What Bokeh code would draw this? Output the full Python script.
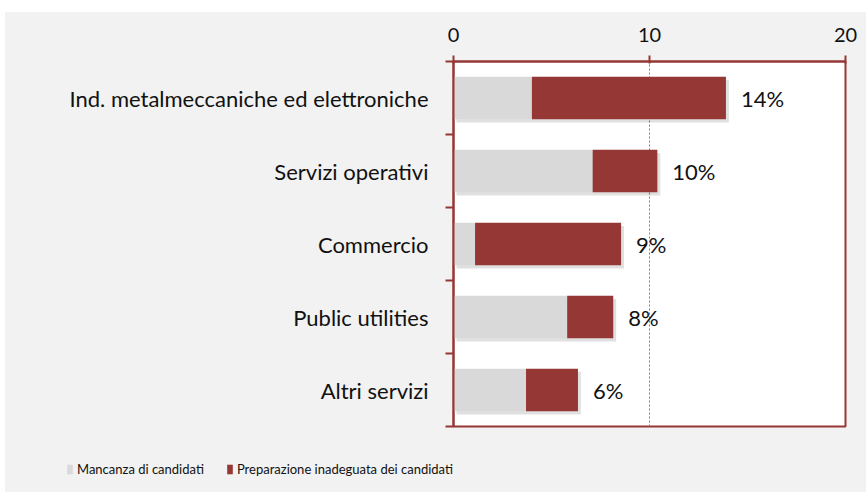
from bokeh.plotting import figure
from bokeh.models import ColumnDataSource, FixedTicker, Legend, LegendItem, Range1d
from bokeh.layouts import column
from bokeh.core.properties import value
from bokeh.embed import file_html
from bokeh.resources import INLINE

categories = ["Ind. metalmeccaniche ed elettroniche", "Servizi operativi", "Commercio",
              "Public utilities", "Altri servizi"]
mancanza = [4.0, 7.1, 1.1, 5.8, 3.7]
preparazione = [9.9, 3.3, 7.45, 2.35, 2.65]
pct_labels = ["14%", "10%", "9%", "8%", "6%"]
series_names = ["Mancanza di candidati", "Preparazione inadeguata dei candidati"]
x_ticks = [0, 10, 20]

GRAY = "#d9d9d9"
RED = "#953735"
BG = "#f2f2f2"
FONT = "Lato"
TXT = "#111111"

n = len(categories)
ys = [n - 1 - i + 0.5 for i in range(n)]
totals = [a + b for a, b in zip(mancanza, preparazione)]
src = ColumnDataSource(dict(y=ys, cat=categories, m=mancanza, tot=totals,
                            zero=[0] * n, lab=pct_labels,
                            sh_l=[0.15] * n, sh_r=[t + 0.15 for t in totals],
                            sh_y=[y - 0.045 for y in ys]))

p = figure(width=861, height=434,
           x_range=Range1d(0, 20), y_range=Range1d(0, n),
           output_backend="svg", toolbar_location=None,
           x_axis_location="above",
           min_border_left=448, min_border_right=21, min_border_top=49, min_border_bottom=20)
p.background_fill_color = "white"
p.border_fill_color = BG
p.outline_line_color = RED
p.outline_line_width = 2

# shadow
p.hbar(y="sh_y", left="sh_l", right="sh_r", height=0.58, source=src,
       fill_color="black", fill_alpha=0.12, line_color=None)
p.hbar(y="y", left="zero", right="m", height=0.58, source=src,
       fill_color=GRAY, line_color=None)
p.hbar(y="y", left="m", right="tot", height=0.58, source=src,
       fill_color=RED, line_color=None)

p.text(x="tot", y="y", text="lab", source=src, x_offset=15,
       text_baseline="middle", text_align="left",
       text_font=value(FONT), text_font_size="22px", text_color=TXT)

xa = p.xaxis[0]
xa.ticker = FixedTicker(ticks=x_ticks)
xa.axis_line_color = RED
xa.axis_line_width = 2
xa.major_tick_line_color = RED
xa.major_tick_line_width = 2
xa.major_tick_out = 6
xa.major_tick_in = 2
xa.minor_tick_line_color = None
xa.major_label_text_font = FONT
xa.major_label_text_font_size = "20px"
xa.major_label_text_color = TXT
xa.major_label_standoff = 14

ya = p.yaxis[0]
ya.ticker = FixedTicker(ticks=ys, minor_ticks=list(range(n + 1)))
ya.major_label_overrides = {y: c for y, c in zip(ys, categories)}
ya.axis_line_color = RED
ya.axis_line_width = 2
ya.major_tick_line_color = None
ya.major_tick_out = 0
ya.major_tick_in = 0
ya.minor_tick_line_color = RED
ya.minor_tick_line_width = 2
ya.minor_tick_out = 8
ya.minor_tick_in = 0
ya.major_label_text_font = FONT
ya.major_label_text_font_size = "22px"
ya.major_label_text_color = TXT
ya.major_label_standoff = 17

p.xgrid.ticker = FixedTicker(ticks=[10])
p.xgrid.grid_line_color = "#808080"
p.xgrid.grid_line_dash = "2 2"
p.xgrid.grid_line_width = 1
p.ygrid.grid_line_color = None

# legend strip
lf = figure(width=861, height=46,
            x_range=Range1d(0, 1), y_range=Range1d(0, 1),
            output_backend="svg", toolbar_location=None,
            min_border=0, min_border_left=0, min_border_right=0,
            min_border_top=0, min_border_bottom=0)
lf.axis.visible = False
lf.grid.visible = False
lf.outline_line_color = None
lf.background_fill_color = BG
lf.border_fill_color = BG
hidden = ColumnDataSource(dict(y=[5], l=[5], r=[6]))
g1 = lf.hbar(y="y", left="l", right="r", height=1, source=hidden, fill_color=GRAY, line_color=None)
g2 = lf.hbar(y="y", left="l", right="r", height=1, source=hidden, fill_color=RED, line_color=None)
legend = Legend(items=[LegendItem(label=series_names[0], renderers=[g1]),
                       LegendItem(label=series_names[1], renderers=[g2])],
                orientation="horizontal", location=(61, 15),
                background_fill_alpha=0, border_line_color=None,
                label_text_font=FONT, label_text_font_size="13px",
                label_text_color=TXT,
                glyph_width=7, glyph_height=12, label_standoff=4, spacing=22,
                padding=0, margin=0)
lf.add_layout(legend, "center")

layout = column(p, column(lf, spacing=0), spacing=0, margin=(12, 0, 0, 5),
                styles={"background-color": BG})
open("out.html", "w").write(file_html(layout, INLINE))
